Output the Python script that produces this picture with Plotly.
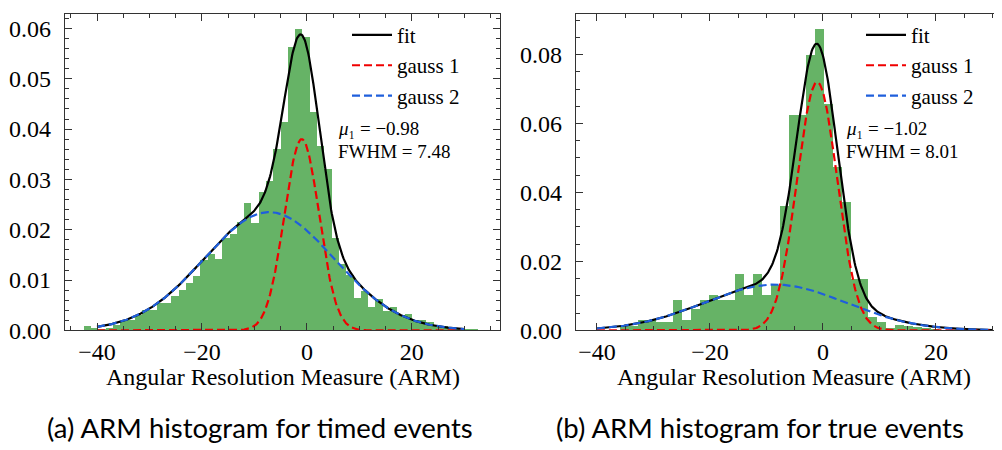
import numpy as np
import plotly.graph_objects as go

# =========================
# Data
# =========================
# (a) timed events: normalised histogram
timed_bin_start = -42.54
timed_bin_width = 1.39
timed_density = [
    0.0009, 0.0006, 0.0004, 0.0006, 0.0011, 0.0020, 0.0021, 0.0030, 0.0040, 0.0040,
    0.0055, 0.0055, 0.0068, 0.0081, 0.0094, 0.0108, 0.0140, 0.0152, 0.0142, 0.0184,
    0.0192, 0.0216, 0.0253, 0.0213, 0.0275, 0.0297, 0.0361, 0.0415, 0.0563, 0.0599,
    0.0583, 0.0435, 0.0367, 0.0322, 0.0184, 0.0133, 0.0110, 0.0065, 0.0078, 0.0046,
    0.0063, 0.0039, 0.0046, 0.0030, 0.0033, 0.0021, 0.0021, 0.0017, 0.0010, 0.0010,
    0.0006, 0.0005, 0.0004, 0.0004, 0.0002,
]
# gauss fit parameters [amplitude, mean, sigma]
timed_gauss1 = [0.0380, -0.98, 3.30]
timed_gauss2 = [0.0235, -7.2, 12.4]
timed_label = ["<i>μ</i>₁ = −0.98", "FWHM = 7.48"]

# (b) true events: normalised histogram
true_bin_start = -35.9
true_bin_width = 1.57
true_density = [
    0.0012, 0.0012, 0.0030, 0.0030, 0.0025, 0.0025, 0.0090, 0.0030, 0.0062, 0.0088,
    0.0104, 0.0090, 0.0090, 0.0165, 0.0104, 0.0165, 0.0104, 0.0132, 0.0362, 0.0625,
    0.0625, 0.0800, 0.0874, 0.0658, 0.0475, 0.0372, 0.0151, 0.0151, 0.0039, 0.0025,
    0.0008, 0.0017, 0.0013, 0.0010, 0.0008, 0.0004, 0.0003, 0.0002, 0.0002,
]
true_gauss1 = [0.0720, -1.02, 3.55]
true_gauss2 = [0.0133, -8.5, 12.5]
true_label = ["<i>μ</i>₁ = −1.02", "FWHM = 8.01"]

fit_range = [-40, 30]
captions = ["(a) ARM histogram for timed events", "(b) ARM histogram for true events"]
x_title = "Angular Resolution Measure (ARM)"

W, H = 1002, 450
SERIF = "Liberation Serif"
SANS = "Lato"
GREEN = "rgba(0,128,0,0.6)"
RED = "#f00000"
BLUE = "#1f5fdc"


def gauss(x, p):
    a, mu, s = p
    return a * np.exp(-((x - mu) ** 2) / (2 * s ** 2))


def px(x):
    return x / W


def py(y):
    return 1 - y / H


fig = go.Figure()

panels = [
    dict(start=timed_bin_start, width=timed_bin_width, dens=timed_density,
         g1=timed_gauss1, g2=timed_gauss2, xa="x", ya="y", leg="legend"),
    dict(start=true_bin_start, width=true_bin_width, dens=true_density,
         g1=true_gauss1, g2=true_gauss2, xa="x2", ya="y2", leg="legend2"),
]

xfit = np.linspace(fit_range[0], fit_range[1], 500)

for p in panels:
    edges = p["start"] + p["width"] * np.arange(len(p["dens"]))
    fig.add_trace(go.Bar(
        x=edges, y=p["dens"], width=p["width"], offset=0,
        marker=dict(color=GREEN, line=dict(width=0)),
        xaxis=p["xa"], yaxis=p["ya"], showlegend=False, hoverinfo="skip",
    ))
    y1 = gauss(xfit, p["g1"])
    y2 = gauss(xfit, p["g2"])
    fig.add_trace(go.Scatter(
        x=xfit, y=y1 + y2, mode="lines", name="fit",
        line=dict(color="black", width=2.2),
        xaxis=p["xa"], yaxis=p["ya"], legend=p["leg"],
    ))
    fig.add_trace(go.Scatter(
        x=xfit, y=y1, mode="lines", name="gauss 1",
        line=dict(color=RED, width=2.2, dash="8px,4px"),
        xaxis=p["xa"], yaxis=p["ya"], legend=p["leg"],
    ))
    fig.add_trace(go.Scatter(
        x=xfit, y=y2, mode="lines", name="gauss 2",
        line=dict(color=BLUE, width=2.2, dash="8px,4px"),
        xaxis=p["xa"], yaxis=p["ya"], legend=p["leg"],
    ))

# =========================
# Axes
# =========================
ydom = [py(332), py(6)]
common = dict(
    showline=True, linecolor="#333", linewidth=1.2, mirror="allticks",
    ticks="inside", ticklen=7, tickwidth=1, tickcolor="#333",
    showgrid=False, zeroline=False,
    tickfont=dict(family=SERIF, size=24, color="black"),
)
xminor = dict(dtick=5, ticks="inside", ticklen=4, tickcolor="#333", showgrid=False)

fig.update_layout(
    xaxis=dict(domain=[px(57), px(492)], range=[-46.1, 36.8], dtick=20, tick0=0,
               anchor="y", minor=xminor, **common),
    yaxis=dict(domain=ydom, range=[0, 0.0629], dtick=0.01, tickformat=".2f",
               anchor="x", ticklabelstandoff=8,
               minor=dict(dtick=0.002, ticks="inside", ticklen=4,
                          tickcolor="#333", showgrid=False), **common),
    xaxis2=dict(domain=[px(568), px(998)], range=[-43.7, 32.4], dtick=20, tick0=0,
                anchor="y2", minor=xminor, **common),
    yaxis2=dict(domain=ydom, range=[0, 0.0918], dtick=0.02, tickformat=".2f",
                anchor="x2", ticklabelstandoff=8,
                minor=dict(dtick=0.005, ticks="inside", ticklen=4,
                           tickcolor="#333", showgrid=False), **common),
)

# =========================
# Legends
# =========================
legend_style = dict(
    bgcolor="rgba(0,0,0,0)", borderwidth=0, xanchor="left", yanchor="top",
    font=dict(family=SERIF, size=21, color="black"), itemwidth=40,
)
fig.update_layout(
    legend=dict(x=px(339), y=py(7), **legend_style),
    legend2=dict(x=px(853), y=py(7), **legend_style),
    bargap=0, plot_bgcolor="white", paper_bgcolor="white",
    width=W, height=H, margin=dict(l=0, r=0, t=0, b=0),
)

# =========================
# Annotations
# =========================
annots = []
for x0, lab in [(328, timed_label), (836, true_label)]:
    annots.append(dict(x=px(x0), y=py(124), text=lab[0], showarrow=False,
                       xref="paper", yref="paper", xanchor="left", yanchor="middle",
                       font=dict(family=SERIF, size=19, color="black")))
    annots.append(dict(x=px(x0), y=py(148), text=lab[1], showarrow=False,
                       xref="paper", yref="paper", xanchor="left", yanchor="middle",
                       font=dict(family=SERIF, size=19, color="black")))
for xc in [274.5, 786]:
    annots.append(dict(x=px(xc), y=py(380), text=x_title, showarrow=False,
                       xref="paper", yref="paper", xanchor="center", yanchor="middle",
                       font=dict(family=SERIF, size=24, color="black")))
for xc, cap in zip([252, 752], captions):
    annots.append(dict(x=px(xc), y=py(432), text=cap, showarrow=False,
                       xref="paper", yref="paper", xanchor="center", yanchor="middle",
                       font=dict(family=SANS, size=27.5, color="black")))
fig.update_layout(annotations=annots)

fig.write_html("out.html")
